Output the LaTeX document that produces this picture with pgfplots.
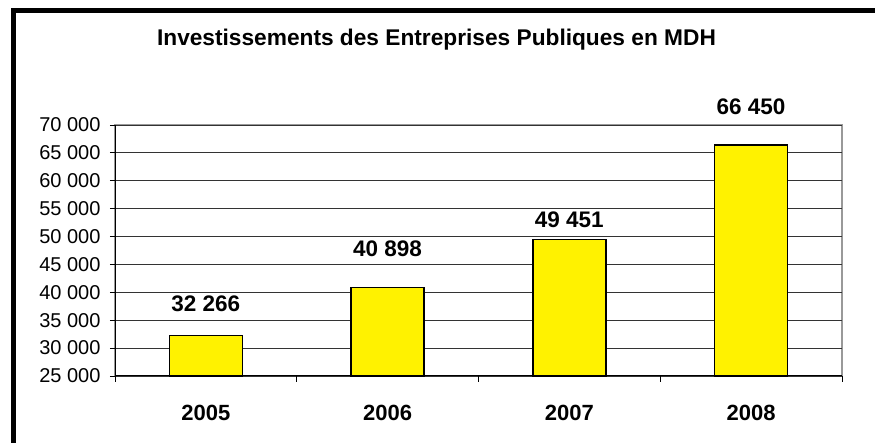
\documentclass[border=0pt]{standalone}
\usepackage{pgfplots}
\pgfplotsset{compat=1.18}
\usepackage{pgfplotstable}
\usepackage{fontspec}
\setmainfont{Liberation Sans}
\pgfplotstableread[col sep=comma]{
x,y,lab,sh
0,32266,32 266,24
1,40898,40 898,31
2,49451,49 451,12
3,66450,66 450,30
}\invdata
\begin{document}
\begin{tikzpicture}[x=1pt,y=1pt]
\useasboundingbox (0,0) rectangle (875,443);
\begin{scope}
\clip (0,0) rectangle (875,443);
\draw[line width=5pt] (13,-10) -- (13,432.5) -- (890,432.5);
\end{scope}
\node[font=\fontsize{22.7}{26}\selectfont\bfseries, anchor=base] at (436.5,397) {Investissements des Entreprises Publiques en MDH};
\begin{axis}[
  at={(115pt,67pt)}, anchor=south west,
  width=727pt, height=251pt, scale only axis,
  xmin=-0.5, xmax=3.5, ymin=25000, ymax=70000,
  scaled y ticks=false,
  axis background/.style={draw=gray!80, line width=1.5pt},
  axis x line*=bottom, axis y line*=left,
  axis line style={black, line width=1pt},
  xtick={0,1,2,3}, xticklabels={2005,2006,2007,2008},
  major x tick style={draw=none},
  minor xtick={-0.5,0.5,1.5,2.5,3.5},
  minor x tick style={black, line width=0.8pt},
  minor tick length=6pt,
  tick align=outside,
  xticklabel style={font=\fontsize{22}{26}\selectfont\bfseries, anchor=base, yshift=-40pt},
  ytick={25000,30000,...,70000},
  yticklabels={25 000,30 000,35 000,40 000,45 000,50 000,55 000,60 000,65 000,70 000},
  yticklabel style={font=\fontsize{20}{24}\selectfont, xshift=-6pt},
  major y tick style={black, line width=0.8pt},
  major tick length=5pt,
  ymajorgrids, major grid style={black!80, line width=0.8pt},
  ybar, bar width=73pt,
  nodes near coords,
  point meta=explicit symbolic,
  visualization depends on={\thisrow{sh} \as \sh},
  nodes near coords style={font=\fontsize{22.5}{26}\selectfont\bfseries, anchor=base, yshift=\sh pt},
  clip=false,
]
\addplot[fill=yellow, draw=black, line width=1.5pt] table[x=x, y=y, meta=lab] {\invdata};
\end{axis}
\end{tikzpicture}
\end{document}
